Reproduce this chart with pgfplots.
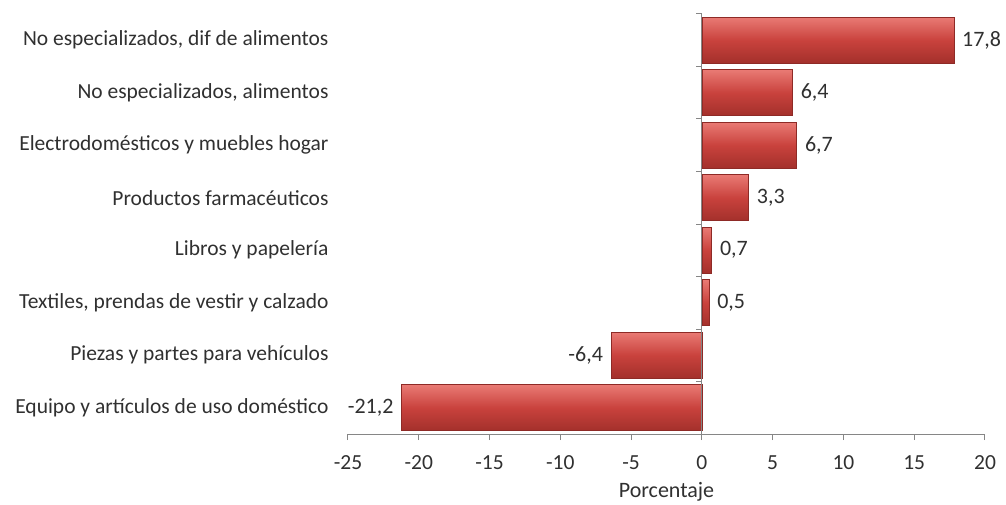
\documentclass[border=0pt]{standalone}
\usepackage{pgfplots}
\pgfplotsset{compat=1.18}
\usepackage{fontspec}
\setmainfont{Carlito}
\definecolor{axgray}{HTML}{868686}
\definecolor{bartop}{HTML}{E97A74}
\definecolor{barmid}{HTML}{C9423D}
\definecolor{barbot}{HTML}{A3302B}
\definecolor{baredge}{HTML}{8E2A26}
\definecolor{txt}{HTML}{303030}
\pgfplotsset{mybar/.style={xbar, bar shift=0pt, draw=baredge, line width=0.6pt,
     top color=bartop, bottom color=barbot, middle color=barmid}}
\begin{document}
\begin{tikzpicture}[font=\fontsize{21.5}{25}\selectfont, text=txt]
\useasboundingbox (-348pt,-70pt) rectangle (658pt,434pt);
\begin{axis}[
  at={(0pt,0pt)}, anchor=south west,
  scale only axis, width=637pt, height=420pt,
  xmin=-25, xmax=20, ymin=-0.5, ymax=7.5,
  xtick={-25,-20,...,20},
  ytick={0,...,7},
  yticklabels={Equipo y artículos de uso doméstico,
               Piezas y partes para vehículos,
               {Textiles, prendas de vestir y calzado},
               Libros y papelería,
               Productos farmacéuticos,
               Electrodomésticos y muebles hogar,
               {No especializados, alimentos},
               {No especializados, dif de alimentos}},
  axis x line*=bottom, axis y line*=left,
  y axis line style={draw=none},
  x axis line style={axgray, line width=1pt, -},
  xtick style={axgray, line width=1pt},
  ytick style={draw=none},
  tick align=outside,
  major tick length=6pt,
  yticklabel style={xshift=-10pt},
  xticklabel style={yshift=-12pt},
  /pgf/number format/assume math mode=true,
  /pgf/number format/use comma,
  /pgf/number format/fixed,
  /pgf/number format/fixed zerofill,
  xticklabel={\pgfmathprintnumber[precision=0,fixed zerofill=false]{\tick}},
  xlabel={Porcentaje},
  xlabel style={inner sep=1pt, yshift=-8pt, font=\fontsize{22}{26}\selectfont},
  xbar, bar width=46pt, bar shift=0pt,
  nodes near coords={\pgfmathprintnumber[precision=1]{\pgfplotspointmeta}},
  every node near coord/.append style={inner sep=8pt, text=txt, font=\fontsize{22}{26}\selectfont},
  clip=false,
]
\addplot[mybar] coordinates {(-21.2,0)};
\addplot[mybar] coordinates {(-6.4,1)};
\addplot[mybar] coordinates {(0.5,2)};
\addplot[mybar] coordinates {(0.7,3)};
\addplot[mybar] coordinates {(3.3,4)};
\addplot[mybar] coordinates {(6.7,5)};
\addplot[mybar] coordinates {(6.4,6)};
\addplot[mybar] coordinates {(17.8,7)};
\end{axis}
\draw[axgray, line width=1pt] (353.889pt,0pt) -- (353.889pt,420pt);
\foreach \k in {0,...,8} \draw[axgray, line width=1pt] (353.889pt,\k*52.5pt) -- ++(-6pt,0);
\end{tikzpicture}
\end{document}
